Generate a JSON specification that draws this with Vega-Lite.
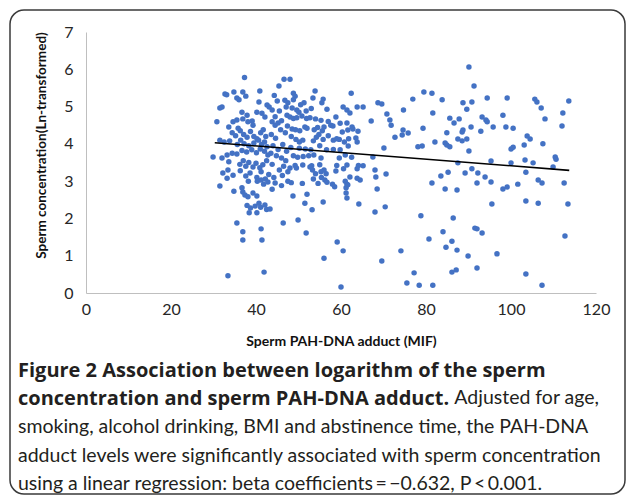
{
  "$schema": "https://vega.github.io/schema/vega-lite/v6.json",
  "autosize": {"type": "none"},
  "padding": {"left": 10, "top": 10, "right": 2, "bottom": 5},
  "width": 615,
  "height": 484,
  "background": "white",
  "view": {"stroke": "#3a3a3a", "strokeWidth": 1.5, "cornerRadius": 14, "fill": null},
  "title": {
    "text": ["Figure 2 Association between logarithm of the sperm", "concentration and sperm PAH-DNA adduct."],
    "subtitle": ["\u200b\u2003\u2003\u2003\u2003\u2003\u2003\u2003\u2003\u2003\u2003\u2003\u2003\u2003\u2003\u2003\u2003\u2003\u2003\u2003\u2003\u2003\u2003\u2003\u2003\u2003\u2003\u2003\u2003\u2003\u2009\u2009\u2009\u2009\u2009Adjusted for age,", "smoking, alcohol drinking, BMI and abstinence time, the PAH-DNA", "adduct levels were significantly associated with sperm concentration", "using a linear regression: beta coefficients\u2009=\u2009\u22120.632, P\u2009<\u20090.001."],
    "orient": "bottom",
    "anchor": "start",
    "frame": "group",
    "offset": -133,
    "dx": 8,
    "align": "left",
    "font": "Open Sans",
    "fontSize": 20,
    "fontWeight": "bold",
    "color": "#231f20",
    "lineHeight": 28,
    "subtitleFont": "Lato",
    "subtitleFontSize": 19.5,
    "subtitleFontWeight": "normal",
    "subtitleColor": "#231f20",
    "subtitleLineHeight": 28.8,
    "subtitlePadding": -20
  },
  "layer": [
    {
      "data": {"values": [
        {"MIF":37.3,"lnConc":5.78},{"MIF":32.7,"lnConc":5.34},{"MIF":33.1,"lnConc":5.32},{"MIF":34.8,"lnConc":5.39},{"MIF":36.9,"lnConc":5.39},{"MIF":35.5,"lnConc":5.23},{"MIF":36.0,"lnConc":5.18},{"MIF":37.6,"lnConc":5.28},{"MIF":40.9,"lnConc":5.42},{"MIF":32.0,"lnConc":4.99},
        {"MIF":31.5,"lnConc":4.96},{"MIF":40.7,"lnConc":5.12},{"MIF":42.6,"lnConc":5.04},{"MIF":36.7,"lnConc":4.85},{"MIF":37.9,"lnConc":4.77},{"MIF":40.2,"lnConc":4.85},{"MIF":41.4,"lnConc":4.82},{"MIF":42.1,"lnConc":4.72},{"MIF":34.6,"lnConc":4.59},{"MIF":35.5,"lnConc":4.64},
        {"MIF":36.9,"lnConc":4.67},{"MIF":38.1,"lnConc":4.59},{"MIF":39.1,"lnConc":4.61},{"MIF":39.3,"lnConc":4.50},{"MIF":30.8,"lnConc":4.59},{"MIF":34.4,"lnConc":4.30},{"MIF":35.2,"lnConc":4.22},{"MIF":36.3,"lnConc":4.35},{"MIF":37.1,"lnConc":4.25},{"MIF":37.9,"lnConc":4.18},
        {"MIF":38.7,"lnConc":4.33},{"MIF":39.5,"lnConc":4.20},{"MIF":40.2,"lnConc":4.14},{"MIF":41.1,"lnConc":4.30},{"MIF":41.7,"lnConc":4.38},{"MIF":42.3,"lnConc":4.20},{"MIF":35.8,"lnConc":4.42},{"MIF":33.6,"lnConc":4.45},{"MIF":31.5,"lnConc":4.10},{"MIF":32.5,"lnConc":4.05},
        {"MIF":33.8,"lnConc":4.08},{"MIF":35.6,"lnConc":3.98},{"MIF":36.4,"lnConc":4.10},{"MIF":38.3,"lnConc":3.95},{"MIF":39.5,"lnConc":4.02},{"MIF":40.6,"lnConc":4.10},{"MIF":41.3,"lnConc":3.98},{"MIF":42.0,"lnConc":4.05},{"MIF":42.6,"lnConc":3.92},{"MIF":37.2,"lnConc":4.00},
        {"MIF":29.9,"lnConc":3.65},{"MIF":32.0,"lnConc":3.62},{"MIF":33.2,"lnConc":3.70},{"MIF":34.4,"lnConc":3.75},{"MIF":35.5,"lnConc":3.73},{"MIF":36.7,"lnConc":3.82},{"MIF":37.8,"lnConc":3.78},{"MIF":39.0,"lnConc":3.84},{"MIF":40.1,"lnConc":3.76},{"MIF":41.0,"lnConc":3.86},
        {"MIF":42.0,"lnConc":3.80},{"MIF":42.8,"lnConc":3.70},{"MIF":33.6,"lnConc":3.52},{"MIF":36.2,"lnConc":3.45},{"MIF":37.0,"lnConc":3.55},{"MIF":37.6,"lnConc":3.40},{"MIF":38.3,"lnConc":3.50},{"MIF":39.3,"lnConc":3.38},{"MIF":40.0,"lnConc":3.48},{"MIF":40.9,"lnConc":3.36},
        {"MIF":41.6,"lnConc":3.44},{"MIF":42.5,"lnConc":3.55},{"MIF":32.2,"lnConc":3.22},{"MIF":33.4,"lnConc":3.30},{"MIF":34.6,"lnConc":3.16},{"MIF":36.3,"lnConc":3.28},{"MIF":37.6,"lnConc":3.14},{"MIF":38.6,"lnConc":3.22},{"MIF":40.2,"lnConc":3.10},{"MIF":41.2,"lnConc":3.25},
        {"MIF":42.2,"lnConc":3.06},{"MIF":43.0,"lnConc":3.18},{"MIF":33.2,"lnConc":3.08},{"MIF":31.5,"lnConc":2.87},{"MIF":38.2,"lnConc":3.00},{"MIF":40.3,"lnConc":3.00},{"MIF":41.2,"lnConc":3.03},{"MIF":41.8,"lnConc":2.92},{"MIF":42.8,"lnConc":2.98},{"MIF":34.8,"lnConc":2.73},
        {"MIF":36.7,"lnConc":2.82},{"MIF":36.9,"lnConc":2.71},{"MIF":37.4,"lnConc":2.63},{"MIF":38.1,"lnConc":2.58},{"MIF":39.3,"lnConc":2.68},{"MIF":40.2,"lnConc":2.60},{"MIF":37.9,"lnConc":2.35},{"MIF":38.7,"lnConc":2.28},{"MIF":39.8,"lnConc":2.33},{"MIF":40.7,"lnConc":2.41},
        {"MIF":41.1,"lnConc":2.30},{"MIF":42.1,"lnConc":2.36},{"MIF":42.5,"lnConc":2.24},{"MIF":38.4,"lnConc":2.15},{"MIF":40.2,"lnConc":2.15},{"MIF":35.5,"lnConc":1.88},{"MIF":36.9,"lnConc":1.64},{"MIF":36.9,"lnConc":1.42},{"MIF":41.2,"lnConc":1.72},{"MIF":41.4,"lnConc":1.42},
        {"MIF":33.4,"lnConc":0.46},{"MIF":41.9,"lnConc":0.56},
        {"MIF":45.4,"lnConc":5.55},{"MIF":46.6,"lnConc":5.73},{"MIF":48.0,"lnConc":5.73},{"MIF":53.9,"lnConc":5.42},{"MIF":62.4,"lnConc":5.36},{"MIF":48.8,"lnConc":5.36},{"MIF":49.2,"lnConc":5.28},{"MIF":48.8,"lnConc":5.18},{"MIF":51.3,"lnConc":5.10},{"MIF":53.4,"lnConc":5.23},
        {"MIF":55.8,"lnConc":5.20},{"MIF":55.5,"lnConc":5.10},{"MIF":48.5,"lnConc":4.96},{"MIF":49.6,"lnConc":4.91},{"MIF":50.1,"lnConc":4.85},{"MIF":56.7,"lnConc":4.93},{"MIF":60.5,"lnConc":4.99},{"MIF":61.4,"lnConc":4.91},{"MIF":62.1,"lnConc":4.83},{"MIF":63.8,"lnConc":4.99},
        {"MIF":65.2,"lnConc":4.99},{"MIF":43.8,"lnConc":4.91},{"MIF":43.1,"lnConc":4.99},{"MIF":45.0,"lnConc":5.15},{"MIF":46.8,"lnConc":5.17},{"MIF":47.1,"lnConc":4.99},{"MIF":47.3,"lnConc":4.77},{"MIF":44.5,"lnConc":4.73},{"MIF":43.8,"lnConc":4.59},{"MIF":44.5,"lnConc":4.50},
        {"MIF":45.2,"lnConc":4.56},{"MIF":48.0,"lnConc":4.72},{"MIF":48.8,"lnConc":4.68},{"MIF":49.6,"lnConc":4.70},{"MIF":50.8,"lnConc":4.75},{"MIF":51.9,"lnConc":4.68},{"MIF":52.7,"lnConc":4.70},{"MIF":54.0,"lnConc":4.67},{"MIF":55.3,"lnConc":4.63},{"MIF":46.0,"lnConc":4.62},
        {"MIF":57.6,"lnConc":4.50},{"MIF":58.1,"lnConc":4.48},{"MIF":61.4,"lnConc":4.56},{"MIF":62.6,"lnConc":4.45},{"MIF":61.6,"lnConc":4.37},{"MIF":62.8,"lnConc":4.40},{"MIF":64.0,"lnConc":4.34},{"MIF":48.5,"lnConc":4.40},{"MIF":49.3,"lnConc":4.38},{"MIF":50.3,"lnConc":4.35},
        {"MIF":51.5,"lnConc":4.45},{"MIF":52.0,"lnConc":4.42},{"MIF":53.7,"lnConc":4.38},{"MIF":54.5,"lnConc":4.44},{"MIF":55.6,"lnConc":4.35},{"MIF":45.8,"lnConc":4.38},{"MIF":46.9,"lnConc":4.30},{"MIF":43.6,"lnConc":4.25},{"MIF":44.6,"lnConc":4.15},{"MIF":47.4,"lnConc":4.48},
        {"MIF":48.3,"lnConc":4.20},{"MIF":49.4,"lnConc":4.12},{"MIF":50.2,"lnConc":4.05},{"MIF":51.0,"lnConc":4.10},{"MIF":53.5,"lnConc":4.08},{"MIF":54.2,"lnConc":4.18},{"MIF":54.8,"lnConc":4.25},{"MIF":55.8,"lnConc":4.12},{"MIF":57.0,"lnConc":4.22},{"MIF":58.2,"lnConc":4.10},
        {"MIF":59.0,"lnConc":4.14},{"MIF":59.6,"lnConc":4.12},{"MIF":60.8,"lnConc":4.05},{"MIF":61.8,"lnConc":4.14},{"MIF":63.5,"lnConc":4.16},{"MIF":63.8,"lnConc":4.05},{"MIF":48.2,"lnConc":3.90},{"MIF":50.2,"lnConc":3.88},{"MIF":51.6,"lnConc":3.86},{"MIF":52.9,"lnConc":3.84},
        {"MIF":55.0,"lnConc":3.95},{"MIF":56.6,"lnConc":3.84},{"MIF":58.2,"lnConc":3.85},{"MIF":59.8,"lnConc":3.84},{"MIF":61.7,"lnConc":3.94},{"MIF":44.0,"lnConc":3.95},{"MIF":45.2,"lnConc":3.85},{"MIF":46.3,"lnConc":3.98},{"MIF":47.2,"lnConc":3.80},{"MIF":43.5,"lnConc":3.75},
        {"MIF":44.8,"lnConc":3.68},{"MIF":46.0,"lnConc":3.62},{"MIF":47.0,"lnConc":3.55},{"MIF":48.8,"lnConc":3.68},{"MIF":49.8,"lnConc":3.64},{"MIF":51.1,"lnConc":3.66},{"MIF":52.4,"lnConc":3.68},{"MIF":53.6,"lnConc":3.70},{"MIF":55.3,"lnConc":3.62},{"MIF":59.6,"lnConc":3.62},
        {"MIF":61.0,"lnConc":3.70},{"MIF":62.5,"lnConc":3.64},{"MIF":49.2,"lnConc":3.42},{"MIF":51.0,"lnConc":3.43},{"MIF":53.1,"lnConc":3.41},{"MIF":55.0,"lnConc":3.44},{"MIF":59.0,"lnConc":3.42},{"MIF":61.4,"lnConc":3.43},{"MIF":64.1,"lnConc":3.42},{"MIF":65.2,"lnConc":3.41},
        {"MIF":43.8,"lnConc":3.45},{"MIF":45.5,"lnConc":3.30},{"MIF":46.5,"lnConc":3.40},{"MIF":47.5,"lnConc":3.25},{"MIF":44.2,"lnConc":3.10},{"MIF":46.2,"lnConc":3.15},{"MIF":48.0,"lnConc":3.35},{"MIF":49.5,"lnConc":3.35},{"MIF":52.7,"lnConc":3.38},{"MIF":53.3,"lnConc":3.30},
        {"MIF":54.0,"lnConc":3.20},{"MIF":55.3,"lnConc":3.25},{"MIF":56.0,"lnConc":3.30},{"MIF":56.5,"lnConc":3.20},{"MIF":58.8,"lnConc":3.27},{"MIF":60.6,"lnConc":3.33},{"MIF":63.8,"lnConc":3.33},{"MIF":48.3,"lnConc":2.96},{"MIF":50.9,"lnConc":2.94},{"MIF":53.5,"lnConc":3.06},
        {"MIF":54.6,"lnConc":2.94},{"MIF":55.4,"lnConc":3.10},{"MIF":56.2,"lnConc":3.03},{"MIF":56.7,"lnConc":2.97},{"MIF":58.0,"lnConc":2.92},{"MIF":58.5,"lnConc":2.85},{"MIF":61.0,"lnConc":3.00},{"MIF":61.4,"lnConc":2.92},{"MIF":63.8,"lnConc":3.08},{"MIF":64.5,"lnConc":3.03},
        {"MIF":62.1,"lnConc":3.11},{"MIF":61.2,"lnConc":2.82},{"MIF":61.6,"lnConc":2.90},{"MIF":44.5,"lnConc":2.95},{"MIF":46.0,"lnConc":2.88},{"MIF":47.5,"lnConc":3.00},{"MIF":43.8,"lnConc":2.78},{"MIF":48.7,"lnConc":2.60},{"MIF":52.0,"lnConc":2.65},{"MIF":51.5,"lnConc":2.41},
        {"MIF":53.2,"lnConc":2.23},{"MIF":55.8,"lnConc":2.44},{"MIF":61.2,"lnConc":2.68},{"MIF":61.4,"lnConc":2.55},{"MIF":64.2,"lnConc":2.39},{"MIF":49.9,"lnConc":1.96},{"MIF":51.8,"lnConc":1.61},{"MIF":59.1,"lnConc":1.37},{"MIF":60.5,"lnConc":1.13},{"MIF":56.0,"lnConc":0.93},
        {"MIF":60.0,"lnConc":0.16},{"MIF":46.4,"lnConc":1.88},{"MIF":43.3,"lnConc":2.25},{"MIF":45.5,"lnConc":4.88},{"MIF":50.5,"lnConc":5.05},{"MIF":44.3,"lnConc":5.30},{"MIF":47.5,"lnConc":5.10},{"MIF":51.8,"lnConc":4.88},{"MIF":53.0,"lnConc":4.95},{"MIF":57.0,"lnConc":4.60},
        {"MIF":59.8,"lnConc":4.55},{"MIF":58.8,"lnConc":4.72},{"MIF":60.3,"lnConc":4.32},{"MIF":56.0,"lnConc":4.45},
        {"MIF":90.1,"lnConc":6.06},{"MIF":91.3,"lnConc":5.55},{"MIF":79.5,"lnConc":5.39},{"MIF":81.4,"lnConc":5.36},{"MIF":83.8,"lnConc":5.18},{"MIF":76.9,"lnConc":5.20},{"MIF":94.4,"lnConc":5.23},{"MIF":99.1,"lnConc":5.23},{"MIF":105.6,"lnConc":5.20},{"MIF":106.1,"lnConc":5.12},
        {"MIF":113.6,"lnConc":5.15},{"MIF":88.7,"lnConc":5.10},{"MIF":90.8,"lnConc":5.12},{"MIF":89.6,"lnConc":4.93},{"MIF":107.1,"lnConc":4.96},{"MIF":68.7,"lnConc":5.10},{"MIF":69.6,"lnConc":5.07},{"MIF":74.7,"lnConc":4.91},{"MIF":81.6,"lnConc":4.83},{"MIF":112.2,"lnConc":4.83},
        {"MIF":70.8,"lnConc":4.80},{"MIF":71.5,"lnConc":4.64},{"MIF":71.8,"lnConc":4.50},{"MIF":67.1,"lnConc":4.61},{"MIF":85.6,"lnConc":4.69},{"MIF":86.6,"lnConc":4.56},{"MIF":87.8,"lnConc":4.67},{"MIF":93.2,"lnConc":4.72},{"MIF":94.1,"lnConc":4.64},{"MIF":94.4,"lnConc":4.59},
        {"MIF":98.1,"lnConc":4.77},{"MIF":108.0,"lnConc":4.67},{"MIF":112.0,"lnConc":4.48},{"MIF":74.6,"lnConc":4.37},{"MIF":72.7,"lnConc":4.18},{"MIF":74.4,"lnConc":4.24},{"MIF":75.8,"lnConc":4.29},{"MIF":79.3,"lnConc":4.42},{"MIF":84.9,"lnConc":4.30},{"MIF":88.5,"lnConc":4.32},
        {"MIF":88.7,"lnConc":4.37},{"MIF":90.6,"lnConc":4.45},{"MIF":92.9,"lnConc":4.34},{"MIF":95.8,"lnConc":4.45},{"MIF":98.8,"lnConc":4.45},{"MIF":100.5,"lnConc":4.42},{"MIF":103.8,"lnConc":4.21},{"MIF":104.5,"lnConc":4.13},{"MIF":87.5,"lnConc":4.13},{"MIF":88.5,"lnConc":4.08},
        {"MIF":89.6,"lnConc":4.13},{"MIF":82.1,"lnConc":4.05},{"MIF":84.5,"lnConc":4.02},{"MIF":84.9,"lnConc":3.97},{"MIF":85.6,"lnConc":3.92},{"MIF":78.1,"lnConc":3.92},{"MIF":79.1,"lnConc":3.94},{"MIF":100.0,"lnConc":3.86},{"MIF":100.5,"lnConc":3.91},{"MIF":103.1,"lnConc":3.97},
        {"MIF":107.5,"lnConc":4.00},{"MIF":70.1,"lnConc":3.89},{"MIF":90.1,"lnConc":3.81},{"MIF":67.5,"lnConc":3.65},{"MIF":87.5,"lnConc":3.49},{"MIF":95.3,"lnConc":3.54},{"MIF":100.0,"lnConc":3.49},{"MIF":103.3,"lnConc":3.57},{"MIF":105.2,"lnConc":3.49},{"MIF":110.4,"lnConc":3.65},
        {"MIF":110.6,"lnConc":3.59},{"MIF":109.9,"lnConc":3.38},{"MIF":103.5,"lnConc":3.24},{"MIF":90.8,"lnConc":3.33},{"MIF":92.2,"lnConc":3.22},{"MIF":93.9,"lnConc":3.11},{"MIF":89.2,"lnConc":3.22},{"MIF":85.2,"lnConc":3.24},{"MIF":83.5,"lnConc":3.14},{"MIF":68.0,"lnConc":3.30},
        {"MIF":68.2,"lnConc":3.11},{"MIF":70.6,"lnConc":3.19},{"MIF":68.5,"lnConc":2.79},{"MIF":81.4,"lnConc":2.95},{"MIF":84.5,"lnConc":2.79},{"MIF":87.3,"lnConc":2.76},{"MIF":92.0,"lnConc":2.95},{"MIF":95.3,"lnConc":2.98},{"MIF":98.1,"lnConc":2.79},{"MIF":99.1,"lnConc":2.84},
        {"MIF":101.6,"lnConc":2.92},{"MIF":106.4,"lnConc":3.03},{"MIF":107.3,"lnConc":2.95},{"MIF":112.5,"lnConc":2.95},{"MIF":95.5,"lnConc":2.39},{"MIF":103.5,"lnConc":2.47},{"MIF":106.4,"lnConc":2.41},{"MIF":113.4,"lnConc":2.39},{"MIF":78.8,"lnConc":2.07},{"MIF":86.4,"lnConc":2.01},
        {"MIF":112.7,"lnConc":1.53},{"MIF":84.0,"lnConc":1.64},{"MIF":91.5,"lnConc":1.74},{"MIF":92.0,"lnConc":1.72},{"MIF":93.2,"lnConc":1.61},{"MIF":80.7,"lnConc":1.45},{"MIF":86.1,"lnConc":1.39},{"MIF":84.7,"lnConc":1.23},{"MIF":87.3,"lnConc":1.15},{"MIF":96.7,"lnConc":1.05},
        {"MIF":74.1,"lnConc":1.13},{"MIF":89.9,"lnConc":0.99},{"MIF":69.6,"lnConc":0.86},{"MIF":86.1,"lnConc":0.56},{"MIF":87.1,"lnConc":0.62},{"MIF":92.0,"lnConc":0.67},{"MIF":103.5,"lnConc":0.51},{"MIF":77.2,"lnConc":0.54},{"MIF":75.5,"lnConc":0.27},{"MIF":78.4,"lnConc":0.21},
        {"MIF":81.6,"lnConc":0.21},{"MIF":107.3,"lnConc":0.21},{"MIF":68.0,"lnConc":2.17},{"MIF":70.4,"lnConc":2.31}
      ]},
      "mark": {"type": "circle", "size": 30, "color": "#4472c4", "opacity": 1},
      "encoding": {
        "x": {
          "field": "MIF", "type": "quantitative",
          "scale": {"domain": [0, 120], "range": [76, 586], "nice": false, "zero": false},
          "axis": {
            "title": "Sperm PAH-DNA adduct (MIF)",
            "orient": "bottom", "offset": -201,
            "values": [0, 20, 40, 60, 80, 100, 120],
            "format": "d",
            "grid": false, "ticks": false, "tickSize": 0,
            "domainColor": "#bfbfbf", "domainWidth": 1,
            "labelFont": "Lato", "labelFontSize": 16, "labelColor": "#262626", "labelPadding": 8,
            "labelFlush": false,
            "titleFont": "Lato", "titleFontSize": 14, "titleFontWeight": "bold", "titleColor": "#111111",
            "titleY": 41, "titleBaseline": "top"
          }
        },
        "y": {
          "field": "lnConc", "type": "quantitative",
          "scale": {"domain": [0, 7], "range": [283, 22], "nice": false, "zero": false},
          "axis": {
            "title": "Sperm concentration(Ln-transformed)",
            "orient": "left", "offset": -76,
            "values": [0, 1, 2, 3, 4, 5, 6, 7],
            "format": "d",
            "grid": false, "ticks": false, "tickSize": 0,
            "domainColor": "#bfbfbf", "domainWidth": 1,
            "labelFont": "Lato", "labelFontSize": 16, "labelColor": "#262626", "labelPadding": 13,
            "labelFlush": false,
            "titleFont": "Lato", "titleFontSize": 13.5, "titleFontWeight": "bold", "titleColor": "#111111", "titlePadding": 15,
            "titleY": 135
          }
        }
      }
    },
    {
      "data": {"values": [{"MIF": 30.3, "lnConc": 4.03}, {"MIF": 113.7, "lnConc": 3.29}]},
      "mark": {"type": "line", "color": "#000000", "strokeWidth": 1.6},
      "encoding": {
        "x": {"field": "MIF", "type": "quantitative"},
        "y": {"field": "lnConc", "type": "quantitative"}
      }
    }
  ]
}
